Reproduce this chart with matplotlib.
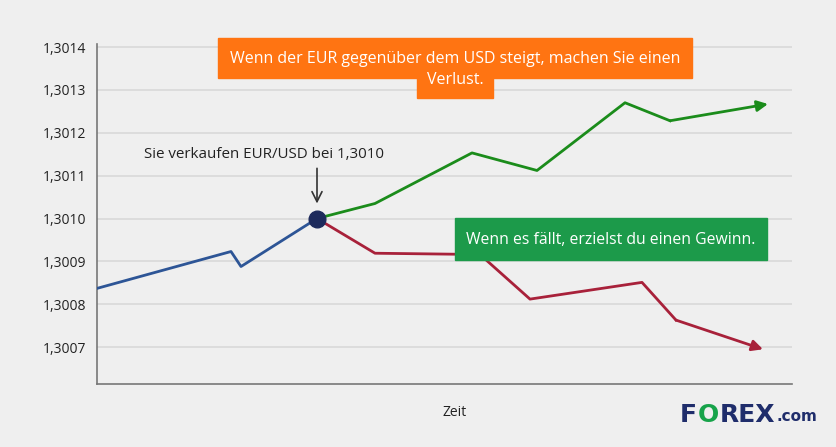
import matplotlib
matplotlib.use("Agg")
import matplotlib.pyplot as plt
from matplotlib.patches import Rectangle

# ---- data ----
blue_t = [0.0, 13.4, 14.4, 22.0]
blue_v = [1.300837, 1.300923, 1.300888, 1.301000]
green_t = [22.0, 27.8, 37.5, 44.0, 52.8, 57.3, 67.1]
green_v = [1.301000, 1.301035, 1.301153, 1.301112, 1.301270, 1.301228, 1.301267]
red_t = [22.0, 27.8, 38.3, 43.3, 54.5, 57.9, 66.6]
red_v = [1.301000, 1.300919, 1.300916, 1.300812, 1.300851, 1.300763, 1.300695]
y_ticks = [1.3007, 1.3008, 1.3009, 1.3010, 1.3011, 1.3012, 1.3013, 1.3014]
y_labels = ["1,3007", "1,3008", "1,3009", "1,3010", "1,3011", "1,3012", "1,3013", "1,3014"]
sell_t, sell_v = 22.0, 1.3010

FONT = ["Open Sans", "DejaVu Sans"]
plt.rcParams['font.family'] = FONT
BG = "#efefef"
W, H = 836, 447

fig = plt.figure(figsize=(W / 100, H / 100), dpi=100, facecolor=BG)
ax = fig.add_axes([97 / W, 1 - 384 / H, (792 - 97) / W, (384 - 44) / H])
ax.set_facecolor(BG)
ax.set_xlim(0, 69.5)
ax.set_ylim(1.300614, 1.301407)

ax.set_yticks(y_ticks)
ax.set_yticklabels(y_labels, fontsize=10, color="#222222", fontweight='medium')
ax.set_xticks([])
ax.tick_params(axis='y', length=0, pad=8)
ax.grid(axis='y', color="#d9d9d9", lw=1.2)
ax.set_axisbelow(True)
for s in ["top", "right"]:
    ax.spines[s].set_visible(False)
for s in ["left", "bottom"]:
    ax.spines[s].set_color("#777777")
    ax.spines[s].set_linewidth(1.2)

BLUE = "#2d5596"
GREEN = "#1b8c1b"
RED = "#a8213a"
LW = 2.0

ax.plot(blue_t, blue_v, color=BLUE, lw=LW, zorder=3)
ax.plot(green_t[:-1], green_v[:-1], color=GREEN, lw=LW, zorder=3)
ax.annotate("", xy=(green_t[-1], green_v[-1]), xytext=(green_t[-2], green_v[-2]),
            arrowprops=dict(arrowstyle='-|>', color=GREEN, lw=LW, mutation_scale=16,
                            shrinkA=0, shrinkB=0), zorder=3)
ax.plot(red_t[:-1], red_v[:-1], color=RED, lw=LW, zorder=3)
ax.annotate("", xy=(red_t[-1], red_v[-1]), xytext=(red_t[-2], red_v[-2]),
            arrowprops=dict(arrowstyle='-|>', color=RED, lw=LW, mutation_scale=16,
                            shrinkA=0, shrinkB=0), zorder=3)

ax.plot([sell_t], [sell_v], 'o', color="#1d2a5c", ms=12, zorder=5)

# sell annotation
ax.annotate("", xy=(sell_t, 1.301035), xytext=(sell_t, 1.301117),
            arrowprops=dict(arrowstyle='->', color="#333333", lw=1.2, mutation_scale=18,
                            shrinkA=0, shrinkB=0))
ax.text(16.65, 1.301150, "Sie verkaufen EUR/USD bei 1,3010", ha='center', va='center',
        fontsize=10.9, color="#222222", fontweight='medium')

# orange box (two parts)
ORANGE = "#ff7412"
fig.patches.append(Rectangle((218 / W, 1 - 78 / H), (692 - 218) / W, 40 / H,
                             transform=fig.transFigure, color=ORANGE, zorder=10))
fig.patches.append(Rectangle((417 / W, 1 - 98 / H), (493 - 417) / W, 21 / H,
                             transform=fig.transFigure, color=ORANGE, zorder=10))
fig.text(455 / W, 1 - 59 / H, "Wenn der EUR gegenüber dem USD steigt, machen Sie einen",
         ha='center', va='center', fontsize=11.5, color="white", zorder=11, fontweight='medium')
fig.text(455 / W, 1 - 80 / H, "Verlust.", ha='center', va='center', fontsize=11.5,
         color="white", zorder=11, fontweight='medium')

# green box
fig.patches.append(Rectangle((455 / W, 1 - 260 / H), (767 - 455) / W, 42 / H,
                             transform=fig.transFigure, color="#1c9a4a", zorder=10))
fig.text(611 / W, 1 - 240 / H, "Wenn es fällt, erzielst du einen Gewinn.",
         ha='center', va='center', fontsize=11.3, color="white", zorder=11, fontweight='medium')

# x label
fig.text(455 / W, 1 - 413 / H, "Zeit", ha='center', va='center', fontsize=10, color="#222222",
         fontweight='medium')

# logo, pieces placed one after another
NAVY = "#1f2d6b"
ty = 1 - 415 / H
renderer = fig.canvas.get_renderer()
x = 680
pieces = [("F", NAVY, 18), ("O", "#17a34a", 18), ("REX", NAVY, 18), (".com", NAVY, 11)]
for txt, col, fs in pieces:
    t = fig.text(x / W, ty if fs > 12 else ty - 0.004, txt, ha='left', va='center',
                 fontsize=fs, fontweight='heavy', color=col, family=["DejaVu Sans"])
    bb = t.get_window_extent(renderer)
    x = bb.x1 + (1 if fs > 12 else 0)

fig.savefig("out.png", dpi=100, facecolor=BG)
